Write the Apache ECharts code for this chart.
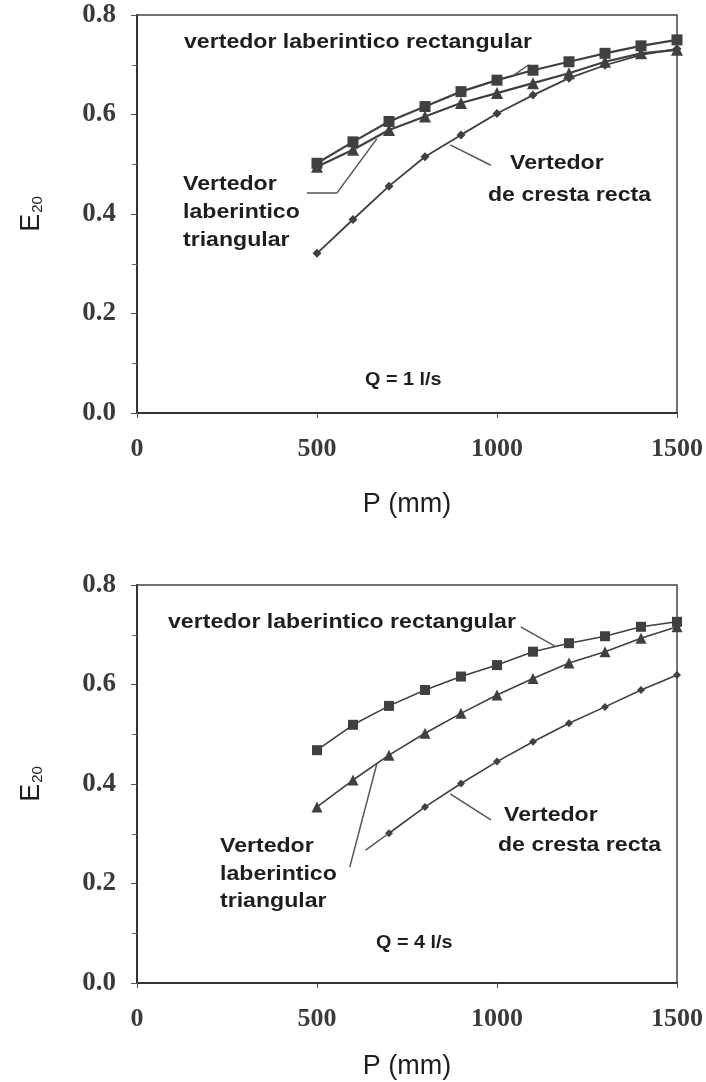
<!DOCTYPE html>
<html>
<head>
<meta charset="utf-8">
<script src="https://cdn.jsdelivr.net/npm/echarts@6/dist/echarts.min.js"></script>
<style>
  html, body { margin: 0; padding: 0; background: #ffffff; }
  #chart { width: 706px; height: 1082px; }
</style>
</head>
<body>
<div id="chart"></div>
<script>
// Weir height P (mm) at which E20 was measured
const P = [500, 600, 700, 800, 900, 1000, 1100, 1200, 1300, 1400, 1500];
const P_RECTA_Q4 = [700, 800, 900, 1000, 1100, 1200, 1300, 1400, 1500];

// Q = 1 l/s
const rect_q1  = [0.502, 0.545, 0.586, 0.616, 0.646, 0.669, 0.689, 0.706, 0.723, 0.738, 0.750];
const tri_q1   = [0.495, 0.529, 0.569, 0.596, 0.623, 0.643, 0.663, 0.683, 0.706, 0.723, 0.730];
const recta_q1 = [0.321, 0.389, 0.456, 0.515, 0.559, 0.602, 0.639, 0.673, 0.699, 0.720, 0.732];

// Q = 4 l/s
const rect_q4  = [0.468, 0.519, 0.557, 0.589, 0.616, 0.639, 0.666, 0.683, 0.697, 0.716, 0.726];
const tri_q4   = [0.354, 0.408, 0.458, 0.502, 0.542, 0.579, 0.612, 0.643, 0.666, 0.693, 0.716];
const recta_q4 = [0.301, 0.354, 0.401, 0.445, 0.485, 0.522, 0.555, 0.589, 0.619];

const Y_TICKS = ['0.0', '0.2', '0.4', '0.6', '0.8'];
const X_TICKS = ['0', '500', '1000', '1500'];

const INK = '#404040';
const TEXT = '#1e1e1e';
const SANS = '"Liberation Sans", Arial, sans-serif';
const SERIF = '"Liberation Serif", "Times New Roman", serif';

const pairs = (xs, ys) => ys.map((y, i) => [xs[i], y]);

function leader(segments) {
  return {
    silent: true,
    symbol: 'none',
    animation: false,
    label: { show: false },
    emphasis: { disabled: true },
    lineStyle: { color: '#555555', width: 1.5, type: 'solid' },
    data: segments.map(s => [{ coord: s[0] }, { coord: s[1] }])
  };
}

function curve(idx, data, symbol, size, width, markLine) {
  const s = {
    type: 'line',
    xAxisIndex: idx,
    yAxisIndex: idx,
    data: data,
    symbol: symbol,
    symbolSize: size,
    showAllSymbol: true,
    smooth: false,
    lineStyle: { color: INK, width: width },
    itemStyle: { color: INK },
    emphasis: { disabled: true },
    z: 3
  };
  if (markLine) s.markLine = markLine;
  return s;
}

function xAxis(idx, gap) {
  return {
    type: 'value',
    gridIndex: idx,
    min: 0, max: 1500, interval: 500,
    name: 'P (mm)',
    nameLocation: 'middle',
    nameGap: gap,
    nameTextStyle: { fontFamily: SANS, fontSize: 27, color: TEXT },
    axisLine: { show: true, onZero: false, lineStyle: { color: '#333333', width: 2 } },
    axisTick: { show: true, length: 5, lineStyle: { color: '#555555', width: 1 } },
    axisLabel: {
      margin: 23,
      fontFamily: SERIF, fontWeight: 'bold', fontSize: 26, color: '#3a3a3a',
      formatter: v => X_TICKS[Math.round(v / 500)]
    },
    splitLine: { show: false }
  };
}

function yAxis(idx) {
  return {
    type: 'value',
    gridIndex: idx,
    min: 0, max: 0.8, interval: 0.2,
    name: '{e|E}{s|20}',
    nameLocation: 'middle',
    nameRotate: 90,
    nameGap: 92,
    nameTextStyle: {
      color: TEXT,
      rich: {
        e: { fontFamily: SANS, fontSize: 27, color: TEXT, verticalAlign: 'bottom' },
        s: { fontFamily: SANS, fontSize: 15, color: TEXT, verticalAlign: 'bottom', padding: [0, 0, 0, 1] }
      }
    },
    axisLine: { show: true, onZero: false, lineStyle: { color: '#333333', width: 2 } },
    axisTick: { show: true, length: 6, lineStyle: { color: '#555555', width: 1 } },
    minorTick: { show: true, splitNumber: 2, length: 5, lineStyle: { color: '#666666', width: 1 } },
    axisLabel: {
      margin: 21,
      fontFamily: SERIF, fontWeight: 'bold', fontSize: 27, color: '#3a3a3a',
      formatter: v => Y_TICKS[Math.round(v / 0.2)]
    },
    splitLine: { show: false }
  };
}

function note(x, y, text, size, bold) {
  return {
    type: 'text',
    x: x, y: y,
    scaleX: 1.1,
    silent: true,
    style: {
      text: text,
      fontFamily: SANS,
      fontSize: size,
      fontWeight: bold ? 'bold' : 'normal',
      fill: TEXT,
      align: 'left',
      verticalAlign: 'middle'
    },
    z: 10
  };
}

const option = {
  backgroundColor: '#ffffff',
  animation: false,
  grid: [
    { left: 137, top: 15, width: 543, height: 398, show: true, borderColor: '#444444', borderWidth: 1.5, backgroundColor: 'transparent' },
    { left: 137, top: 585, width: 543, height: 398, show: true, borderColor: '#444444', borderWidth: 1.5, backgroundColor: 'transparent' }
  ],
  xAxis: [xAxis(0, 78), xAxis(1, 70)],
  yAxis: [yAxis(0), yAxis(1)],
  series: [
    // Q = 1 l/s
    curve(0, pairs(P, rect_q1), 'rect', 11, 2.2,
      leader([[[1088, 0.700], [1047, 0.679]]])),
    curve(0, pairs(P, tri_q1), 'triangle', 12, 2.2,
      leader([[[472, 0.442], [555, 0.442]], [[555, 0.442], [666, 0.551]]])),
    curve(0, pairs(P, recta_q1), 'diamond', 9, 1.8,
      leader([[[983, 0.498], [870, 0.539]]])),
    // Q = 4 l/s
    curve(1, pairs(P, rect_q4), 'rect', 10, 1.6,
      leader([[[1066, 0.716], [1163, 0.676]]])),
    curve(1, pairs(P, tri_q4), 'triangle', 11, 1.6,
      leader([[[591, 0.233], [666, 0.440]]])),
    curve(1, pairs(P_RECTA_Q4, recta_q4), 'diamond', 8, 1.6,
      leader([[[983, 0.328], [870, 0.380]], [[635, 0.267], [700, 0.301]]]))
  ],
  graphic: [
    note(184, 42, 'vertedor laberintico rectangular', 21, true),
    note(183, 184, 'Vertedor', 21, true),
    note(183, 212, 'laberintico', 21, true),
    note(183, 240, 'triangular', 21, true),
    note(510, 163, 'Vertedor', 21, true),
    note(488, 195, 'de cresta recta', 21, true),
    note(365, 380, 'Q = 1 l/s', 18, true),

    note(168, 622, 'vertedor laberintico rectangular', 21, true),
    note(220, 846, 'Vertedor', 21, true),
    note(220, 874, 'laberintico', 21, true),
    note(220, 901, 'triangular', 21, true),
    note(504, 815, 'Vertedor', 21, true),
    note(498, 845, 'de cresta recta', 21, true),
    note(376, 943, 'Q = 4 l/s', 18, true)
  ]
};

const chart = echarts.init(document.getElementById('chart'), null, { renderer: 'canvas' });
chart.setOption(option);
</script>
</body>
</html>
